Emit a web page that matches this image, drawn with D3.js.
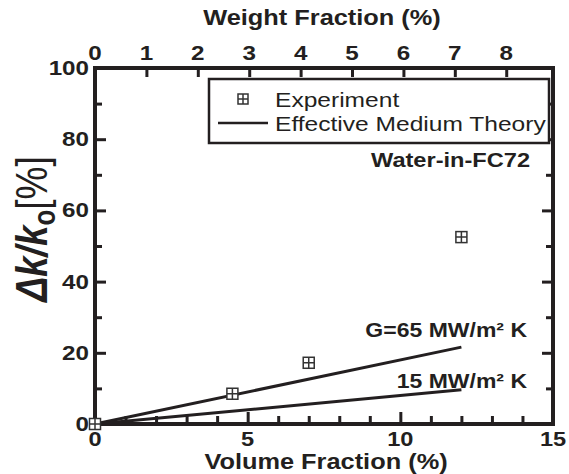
<!DOCTYPE html>
<html>
<head>
<meta charset="utf-8">
<script src="https://cdn.jsdelivr.net/npm/d3@7"></script>
<style>
  html, body { margin: 0; padding: 0; background: #fff; }
  svg { display: block; font-family: "Liberation Sans", Arial, Helvetica, sans-serif; }
</style>
</head>
<body>
<svg id="chart" width="569" height="474"></svg>
<script>
// Measured thermal conductivity enhancement of water-in-FC72 emulsions
const expVolume = [0, 4.5, 7.0, 12.0];
const expEnhancement = [0, 8.5, 17.2, 52.5];

// Effective medium theory predictions for two interface conductances
const emtSeries = ["G=65 MW/m\u00B2 K", "15 MW/m\u00B2 K"];
const emtVolume = [0, 12];
const emtEnhancement65 = [0, 21.6];
const emtEnhancement15 = [0, 9.6];

// Axis ticks
const volumeTicks = [0, 5, 10, 15];
const volumeMinor = d3.range(0, 16, 1);
const enhancementTicks = [0, 20, 40, 60, 80, 100];
const enhancementMinor = d3.range(0, 101, 10);
const weightTicks = [0, 1, 2, 3, 4, 5, 6, 7, 8];

const legendLabels = ["Experiment", "Effective Medium Theory"];
const systemLabel = "Water-in-FC72";

const svg = d3.select("#chart");
const plotL = 95, plotR = 553, plotT = 68, plotB = 424;
const SX = 1.18; // glyphs in this figure are set wide

const x = d3.scaleLinear().domain([0, 15]).range([plotL, plotR]);
const y = d3.scaleLinear().domain([0, 100]).range([plotB, plotT]);
const xw = d3.scaleLinear().domain([0, 8.91]).range([plotL, plotR]);

const ink = "#231f20";

function label(g, px, py, str, size, weight, anchor, sx) {
  return g.append("text")
    .attr("transform", `translate(${px},${py}) scale(${sx || SX},1)`)
    .attr("text-anchor", anchor || "middle")
    .attr("font-size", size)
    .attr("font-weight", weight || "bold")
    .attr("fill", ink)
    .text(str);
}

// Bottom axis: ticks pointing into the plot
const gb = svg.append("g").attr("transform", `translate(0,${plotB})`);
gb.call(d3.axisBottom(x).tickValues(volumeMinor).tickSize(0).tickFormat(""))
  .call(g => g.select(".domain").remove());
gb.selectAll(".tick line")
  .attr("y2", d => volumeTicks.includes(d) ? -12 : -8)
  .attr("stroke", ink).attr("stroke-width", 3);
volumeTicks.forEach(v => label(svg, x(v), 446, String(v), 20, "bold"));

// Left axis
const gl = svg.append("g").attr("transform", `translate(${plotL},0)`);
gl.call(d3.axisLeft(y).tickValues(enhancementMinor).tickSize(0).tickFormat(""))
  .call(g => g.select(".domain").remove());
gl.selectAll(".tick line")
  .attr("x2", d => enhancementTicks.includes(d) ? 11 : 7)
  .attr("stroke", ink).attr("stroke-width", 3);
enhancementTicks.forEach(v => label(svg, 89, y(v) + 7, String(v), 20.5, "bold", "end"));

// Right axis
const gr = svg.append("g").attr("transform", `translate(${plotR},0)`);
gr.call(d3.axisRight(y).tickValues(enhancementMinor).tickSize(0).tickFormat(""))
  .call(g => g.select(".domain").remove());
gr.selectAll(".tick line")
  .attr("x2", d => enhancementTicks.includes(d) ? -11 : -7)
  .attr("stroke", ink).attr("stroke-width", 3);

// Top axis: weight fraction
const gt = svg.append("g").attr("transform", `translate(0,${plotT})`);
gt.call(d3.axisTop(xw).tickValues(weightTicks).tickSize(0).tickFormat(""))
  .call(g => g.select(".domain").remove());
gt.selectAll(".tick line")
  .attr("y2", 9)
  .attr("stroke", ink).attr("stroke-width", 3);
weightTicks.forEach(v => label(svg, xw(v), 60, String(v), 20.5, "bold"));

// Frame
svg.append("rect")
  .attr("x", plotL).attr("y", plotT)
  .attr("width", plotR - plotL).attr("height", plotB - plotT)
  .attr("fill", "none").attr("stroke", ink).attr("stroke-width", 4);

// Axis titles
label(svg, 322, 25, "Weight Fraction (%)", 21.5, "bold");
label(svg, 326, 469, "Volume Fraction (%)", 21.5, "bold");

const yt = svg.append("text")
  .attr("transform", `translate(47,229) rotate(-90) scale(1,${SX})`)
  .attr("text-anchor", "middle")
  .attr("font-size", 37)
  .attr("fill", ink);
yt.append("tspan").attr("font-weight", "bold").attr("font-style", "italic").text("\u0394k/k");
yt.append("tspan").attr("font-weight", "bold").attr("font-size", 26).attr("dy", 7).text("o");
yt.append("tspan").attr("dy", -7).text("[%]");

// Theory lines
const line = d3.line().x(d => x(d[0])).y(d => y(d[1]));
[emtEnhancement65, emtEnhancement15].forEach(vals => {
  svg.append("path")
    .datum(emtVolume.map((v, i) => [v, vals[i]]))
    .attr("d", line)
    .attr("fill", "none").attr("stroke", ink).attr("stroke-width", 3);
});
label(svg, 527, 337, emtSeries[0], 19.5, "bold", "end");
label(svg, 527, 388, emtSeries[1], 19.5, "bold", "end");

// Experimental markers: square with cross
function marker(g, cx, cy, s) {
  const h = s / 2;
  g.append("rect").attr("x", cx - h).attr("y", cy - h).attr("width", s).attr("height", s)
    .attr("fill", "#fff").attr("stroke", "#333").attr("stroke-width", 1.5);
  g.append("path").attr("d", `M${cx - h},${cy}H${cx + h}M${cx},${cy - h}V${cy + h}`)
    .attr("stroke", "#333").attr("stroke-width", 1.5);
}
const mk = svg.append("g");
expVolume.forEach((v, i) => marker(mk, x(v), y(expEnhancement[i]), 11));

// Legend
const lg = svg.append("g");
lg.append("rect").attr("x", 209).attr("y", 79).attr("width", 340).attr("height", 64)
  .attr("fill", "#fff").attr("stroke", ink).attr("stroke-width", 2.5);
marker(lg, 243, 99, 10);
label(lg, 275, 107, legendLabels[0], 21, "normal", "start", 1.17);
lg.append("line").attr("x1", 218).attr("x2", 268).attr("y1", 123).attr("y2", 123)
  .attr("stroke", ink).attr("stroke-width", 2.5);
label(lg, 275, 131, legendLabels[1], 21, "normal", "start", 1.17);

label(svg, 530, 167, systemLabel, 20, "bold", "end");
</script>
</body>
</html>
